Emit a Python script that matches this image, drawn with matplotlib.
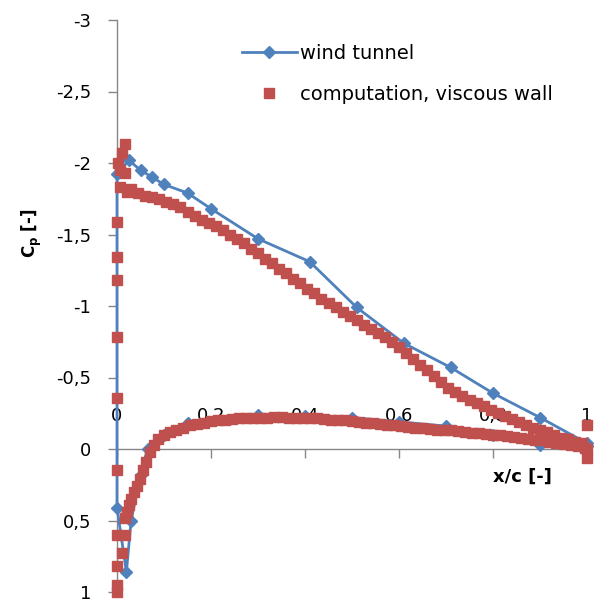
import matplotlib
matplotlib.use('Agg')
import matplotlib.pyplot as plt
from matplotlib.ticker import FuncFormatter

# Wind tunnel taps (lower surface TE -> LE -> upper surface TE)
wt_x = [1.0, 0.9, 0.8, 0.7, 0.6, 0.5, 0.4, 0.3, 0.15, 0.1, 0.065, 0.05, 0.03, 0.02, 0.0,
        0.0, 0.025, 0.05, 0.075, 0.1, 0.15, 0.2, 0.3, 0.41, 0.51, 0.61, 0.71, 0.8, 0.9, 1.0]
wt_cp = [-0.02, -0.03, -0.10, -0.16, -0.19, -0.22, -0.23, -0.24, -0.18, -0.10, 0.0, 0.18, 0.5, 0.86, 0.41,
         -1.92, -2.02, -1.95, -1.90, -1.85, -1.79, -1.68, -1.47, -1.31, -0.99, -0.74, -0.57, -0.39, -0.22, -0.04]

# Computation, leading edge cluster
comp_le_x = [0.0, 0.0, 0.0, 0.0, 0.0, 0.006, 0.021, 0.006, 0.017, 0.002, 0.011, 0.017,
             0.0, 0.0, 0.017, 0.01, 0.0, 0.0, 0.0]
comp_le_cp = [-0.36, -0.78, -1.18, -1.34, -1.59, -1.83, -1.80, -1.95, -1.93, -2.0, -2.07, -2.13,
              0.15, 0.6, 0.6, 0.73, 0.82, 0.95, 1.0]

# Computation, upper surface
comp_up_x = [0.03, 0.045, 0.06, 0.075, 0.09, 0.105, 0.12, 0.135, 0.15, 0.165, 0.18, 0.195,
             0.21, 0.225, 0.24, 0.255, 0.27, 0.285, 0.3, 0.315, 0.33, 0.345, 0.36, 0.375,
             0.39, 0.405, 0.42, 0.435, 0.45, 0.465, 0.48, 0.495, 0.51, 0.525, 0.54, 0.555,
             0.57, 0.585, 0.6, 0.615, 0.63, 0.645, 0.66, 0.675, 0.69, 0.705, 0.72, 0.735,
             0.75, 0.765, 0.78, 0.795, 0.81, 0.825, 0.84, 0.855, 0.87, 0.885, 0.9, 0.915,
             0.93, 0.945, 0.96, 0.975, 0.99]
comp_up_cp = [-1.82, -1.79, -1.77, -1.76, -1.75, -1.73, -1.71, -1.69, -1.66, -1.63, -1.60, -1.58,
              -1.56, -1.53, -1.50, -1.47, -1.44, -1.40, -1.37, -1.33, -1.30, -1.26, -1.23, -1.19,
              -1.16, -1.12, -1.09, -1.05, -1.02, -0.99, -0.96, -0.93, -0.90, -0.87, -0.84, -0.81,
              -0.78, -0.75, -0.71, -0.67, -0.63, -0.59, -0.55, -0.51, -0.47, -0.43, -0.40, -0.37,
              -0.34, -0.32, -0.30, -0.27, -0.25, -0.23, -0.21, -0.19, -0.17, -0.15, -0.13, -0.12,
              -0.10, -0.08, -0.07, -0.05, -0.04]

# Computation, lower surface
comp_lo_x = [0.017, 0.021, 0.026, 0.03, 0.036, 0.042, 0.048, 0.055, 0.062, 0.07, 0.078, 0.088,
             0.10, 0.112, 0.125, 0.14, 0.155, 0.17, 0.185, 0.2, 0.215, 0.23, 0.245, 0.26,
             0.275, 0.29, 0.305, 0.32, 0.335, 0.35, 0.365, 0.38, 0.395, 0.41, 0.425, 0.44,
             0.455, 0.47, 0.485, 0.5, 0.515, 0.53, 0.545, 0.56, 0.575, 0.59, 0.605, 0.62,
             0.635, 0.65, 0.665, 0.68, 0.695, 0.71, 0.725, 0.74, 0.755, 0.77, 0.785, 0.8,
             0.815, 0.83, 0.845, 0.86, 0.875, 0.89, 0.905, 0.92, 0.935, 0.95, 0.965, 0.98,
             0.995, 1.0, 1.0, 1.0]
comp_lo_cp = [0.48, 0.44, 0.39, 0.35, 0.30, 0.26, 0.21, 0.15, 0.09, 0.02, -0.03, -0.07,
              -0.10, -0.12, -0.135, -0.15, -0.165, -0.175, -0.185, -0.195, -0.2, -0.205, -0.21, -0.215,
              -0.215, -0.22, -0.22, -0.22, -0.225, -0.225, -0.22, -0.22, -0.22, -0.215, -0.215, -0.21,
              -0.205, -0.2, -0.2, -0.195, -0.19, -0.185, -0.18, -0.175, -0.17, -0.165, -0.16, -0.155,
              -0.15, -0.145, -0.14, -0.135, -0.13, -0.13, -0.125, -0.12, -0.115, -0.11, -0.105, -0.1,
              -0.095, -0.09, -0.085, -0.08, -0.07, -0.065, -0.06, -0.05, -0.045, -0.035, -0.03, -0.02,
              -0.01, -0.17, 0.06, 0.0]

comp_x = comp_le_x + comp_up_x + comp_lo_x
comp_cp = comp_le_cp + comp_up_cp + comp_lo_cp

plt.rcParams['font.family'] = ['DejaVu Sans']

fig = plt.figure(figsize=(5.95, 6.02), dpi=100)
ax = fig.add_axes([117 / 595, 1 - 592 / 602, 470 / 595, 572 / 602])

blue = '#4F81BD'
red = '#C0504D'
axis_grey = '#868686'

ax.plot(wt_x, wt_cp, color=blue, linewidth=2, marker='D', markersize=6.5,
        label='wind tunnel', clip_on=False, zorder=3)
ax.plot(comp_x, comp_cp, linestyle='none', color=red, marker='s', markersize=7,
        label='computation, viscous wall', clip_on=False, zorder=4)

ax.set_xlim(0, 1)
ax.set_ylim(1, -3)

ax.set_xticks([0, 0.2, 0.4, 0.6, 0.8, 1.0])
ax.set_yticks([-3, -2.5, -2, -1.5, -1, -0.5, 0, 0.5, 1])
comma = FuncFormatter(lambda v, p: ('%g' % v).replace('.', ','))
ax.xaxis.set_major_formatter(comma)
ax.yaxis.set_major_formatter(comma)

# Excel-like axes: y axis at x=0, x axis crossing at Cp=0
ax.spines['top'].set_visible(False)
ax.spines['right'].set_visible(False)
ax.spines['bottom'].set_position(('data', 0))
for s in ['left', 'bottom']:
    ax.spines[s].set_color(axis_grey)
    ax.spines[s].set_linewidth(1)

ax.tick_params(axis='both', colors=axis_grey, labelcolor='black', labelsize=13,
               direction='out', length=6.5, width=1)
ax.tick_params(axis='y', pad=12)
# x tick labels sit above the axis line, like in the Excel original
ax.tick_params(axis='x', pad=-37)

fig.text(522 / 595, 1 - 477 / 602, 'x/c [-]', fontsize=13, fontweight='bold',
         ha='center', va='center')
fig.text(32 / 595, 1 - 233 / 602, r'$\mathbf{C_p}$ [-]', fontsize=12, fontweight='bold',
         rotation=90, ha='center', va='center')

ax.legend(loc='upper left', bbox_to_anchor=(232 / 595, 1 - 34 / 602),
          bbox_transform=fig.transFigure, frameon=False, fontsize=14,
          handlelength=2.85, handletextpad=0.15, labelspacing=1.16, borderpad=0)

fig.savefig('out.png', dpi=100)
